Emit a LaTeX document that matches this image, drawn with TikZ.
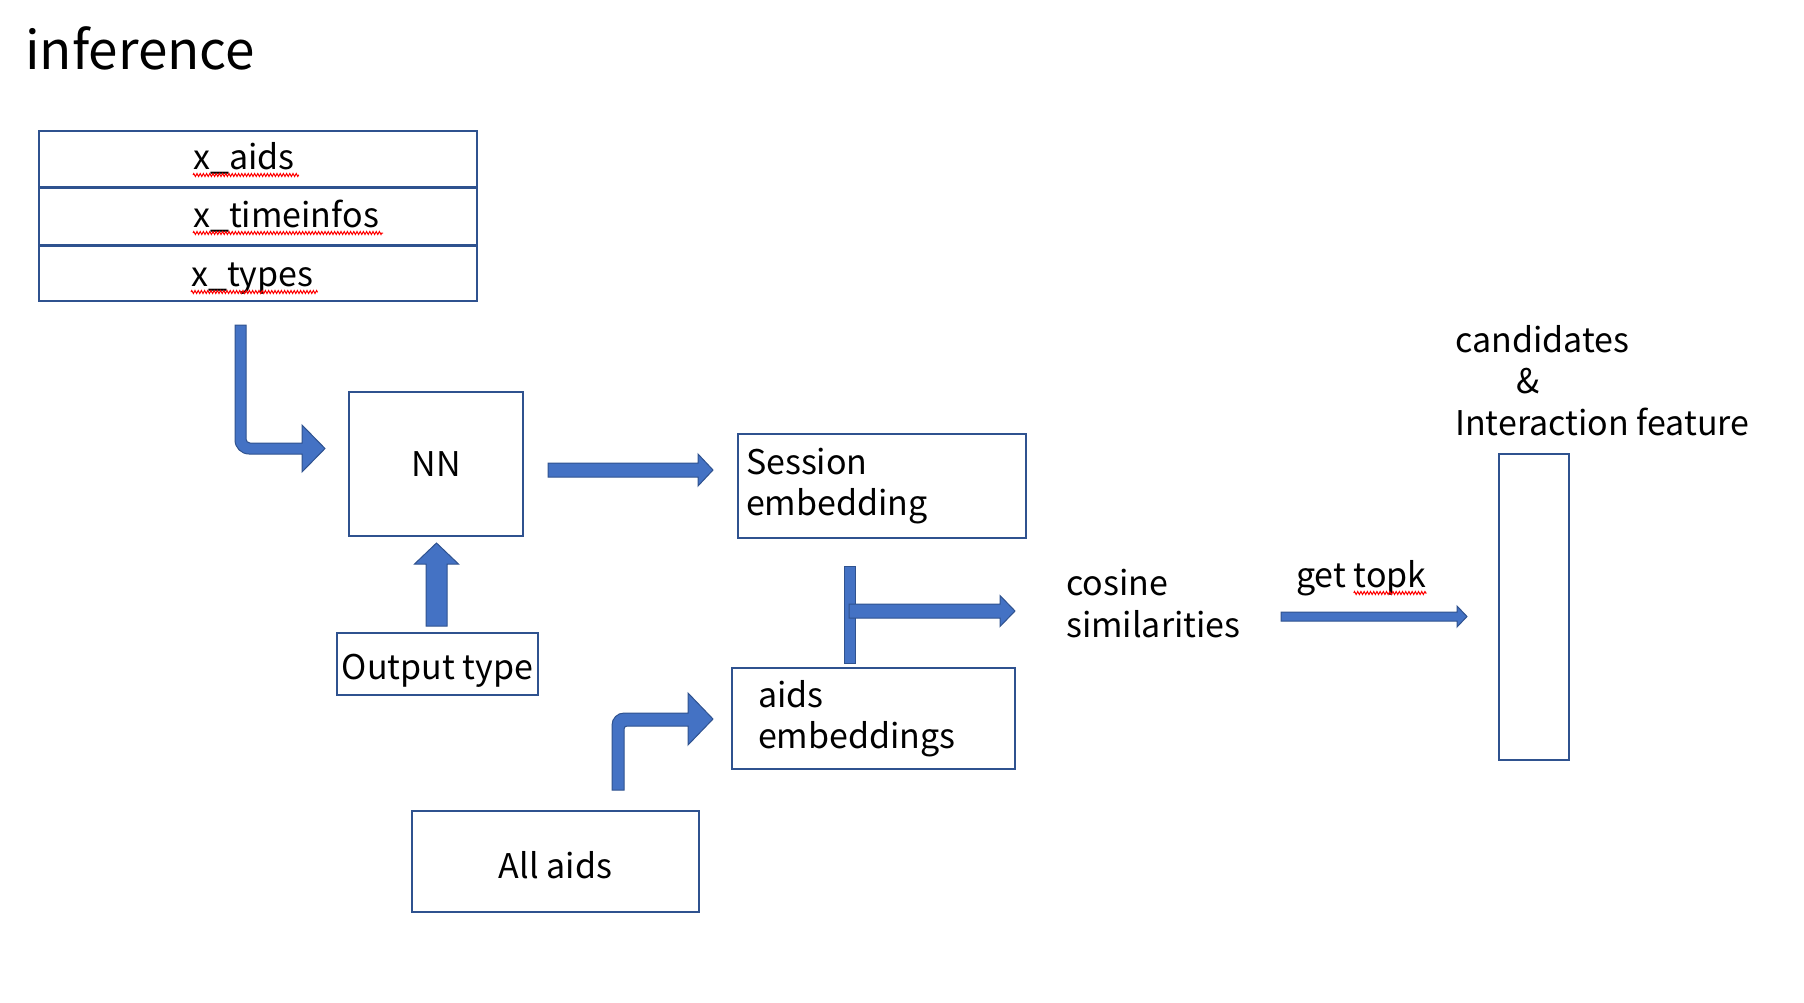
\documentclass[tikz,border=0pt]{standalone}
\usepackage{fontspec}
\setmainfont{Noto Sans CJK JP}
\usetikzlibrary{calc,decorations.pathmorphing}
\definecolor{boxline}{RGB}{47,82,143}
\definecolor{arrowfill}{RGB}{68,114,196}
\definecolor{arrowline}{RGB}{47,82,143}
\definecolor{spellred}{RGB}{255,0,0}
\newcommand{\txtfont}{\fontsize{34pt}{41.5pt}\selectfont}
\newcommand{\ttlfont}{\fontsize{53pt}{61pt}\selectfont}

\begin{document}
\begin{tikzpicture}[x=1pt, y=-1pt,
		box/.style={draw=boxline, line width=2pt, rectangle, inner sep=0pt, font=\txtfont},
		rowbox/.style={draw=boxline, line width=2pt, rectangle, inner sep=0pt, minimum width=438pt},
		txt/.style={anchor=base west, inner sep=0pt, font=\txtfont},
		arrowbody/.style={fill=arrowfill, draw=arrowline, line width=1pt},
		blockarrow/.style n args={3}{arrowbody,
			to path={
				($(\tikztostart)!#1!90:(\tikztotarget)$)
				-- ($(\tikztotarget)!#3!(\tikztostart)!#1!-90:(\tikztostart)$)
				-- ($(\tikztotarget)!#3!(\tikztostart)!#2!-90:(\tikztostart)$)
				-- (\tikztotarget)
				-- ($(\tikztotarget)!#3!(\tikztostart)!#2!90:(\tikztostart)$)
				-- ($(\tikztotarget)!#3!(\tikztostart)!#1!90:(\tikztostart)$)
				-- ($(\tikztostart)!#1!-90:(\tikztotarget)$)
				-- cycle}},
		spellmark/.style={draw=spellred, line width=1pt, decorate,
			decoration={zigzag, amplitude=1.5pt, segment length=3.2pt}}]
	\useasboundingbox (0,0) rectangle (1804,1002);

	\node[anchor=base west, inner sep=0pt, font=\ttlfont] (title) at (25,69) {inference};

	% input table
	\node[rowbox, minimum height=56pt] (xaids) at (258,159) {};
	\node[rowbox, minimum height=57pt] (xtime) at (258,216.5) {};
	\node[rowbox, minimum height=55pt] (xtypes) at (258,273.5) {};
	\node[txt] (xaidst) at (193,169) {x\_aids};
	\node[txt] (xtimet) at (193,227) {x\_timeinfos};
	\node[txt] (xtypest) at (191,286) {x\_types};
	\draw[spellmark] ([yshift=-6pt]xaidst.base west) -- ([xshift=4pt,yshift=-6pt]xaidst.base east);
	\draw[spellmark] ([yshift=-6pt]xtimet.base west) -- ([xshift=4pt,yshift=-6pt]xtimet.base east);
	\draw[spellmark] ([yshift=-6pt]xtypest.base west) -- ([xshift=4pt,yshift=-6pt]xtypest.base east);

	% boxes
	\node[box, minimum width=174pt, minimum height=144pt] (nn) at (436,464) {NN};
	\node[box, minimum width=201pt, minimum height=62pt, text height=31pt, text depth=0pt] (otype) at (437.5,664) {Output type};
	\node[box, align=left, text width=272pt, inner xsep=8pt, minimum height=104pt] (sess) at (882,486) {Session\\embedding};
	\node[box, align=left, text width=231pt, inner xsep=26pt, minimum height=101pt] (aemb) at (873.5,718.5) {aids\\embeddings};
	\node[box, minimum width=287pt, minimum height=101pt, text height=33pt, text depth=0pt] (alla) at (555.5,861.5) {All aids};
	\node[box, minimum width=70pt, minimum height=306pt] (cand) at (1534,607) {};

	% labels
	\node[txt, align=left] (cos) at (1066,637) {cosine\\similarities};
	\node[txt] (topk) at (1296,587) {get topk};
	\draw[spellmark] ([xshift=-73pt,yshift=-6pt]topk.base east) -- ([yshift=-6pt]topk.base east);
	\node[txt, align=left] (candt) at (1455,435) {candidates\\\hspace*{61pt}\&\\Interaction feature};

	% arrow ends
	\coordinate (in-tail) at (240.5,325);
	\coordinate (nn-out) at (548,470);
	\coordinate (sess-in) at (713,470);
	\coordinate (ot-out) at (436.5,626);
	\coordinate (nn-in) at (436.5,543);
	\coordinate (bar-top) at (849.5,566);
	\coordinate (bar-bot) at (849.5,663);
	\coordinate (bar-out) at (849,611);
	\coordinate (cos-in) at (1015,611);
	\coordinate (topk-out) at (1281,616.5);
	\coordinate (cand-in) at (1467,616.5);
	\coordinate (all-tail) at (618,790);

	% input -> NN
	\begin{scope}[shift={(in-tail)}]
		\draw[arrowbody] (-5.5,0) [rounded corners=14pt] -- (-5.5,129) [sharp corners] -- (61.5,129) -- (61.5,147) -- (84.5,123.5) -- (61.5,100) -- (61.5,118) [rounded corners=4pt] -- (5.5,118) [sharp corners] -- (5.5,0) -- cycle;
	\end{scope}
	\draw[blockarrow={7pt}{16pt}{15pt}] (nn-out) to (sess-in);
	\draw[blockarrow={10.5pt}{22pt}{21pt}] (ot-out) to (nn-in);

	% similarity
	\draw[arrowbody] ([xshift=-5.5pt]bar-top) rectangle ([xshift=5.5pt]bar-bot);
	\draw[blockarrow={7pt}{15.5pt}{15pt}] (bar-out) to (cos-in);
	\draw[blockarrow={4.5pt}{10.5pt}{10pt}] (topk-out) to (cand-in);

	% all aids -> embeddings
	\begin{scope}[shift={(all-tail)}]
		\draw[arrowbody] (-6,0) [rounded corners=12pt] -- (-6,-77) [sharp corners] -- (70,-77) -- (70,-97) -- (95,-71) -- (70,-45) -- (70,-64) [rounded corners=3pt] -- (6,-64) [sharp corners] -- (6,0) -- cycle;
	\end{scope}
\end{tikzpicture}
\end{document}
